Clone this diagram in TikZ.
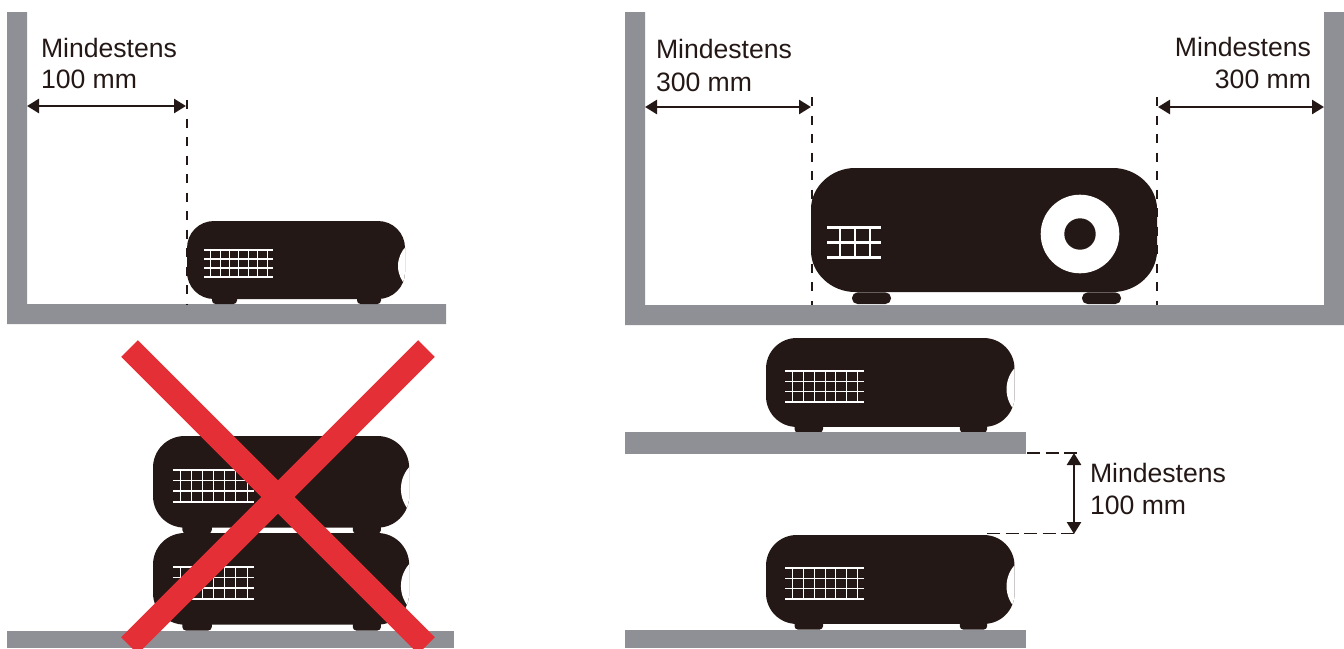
\documentclass[tikz,border=0pt]{standalone}
\usepackage{fontspec}
\setmainfont{Liberation Sans}
\usetikzlibrary{arrows.meta}
\definecolor{ink}{HTML}{231815}
\definecolor{shelf}{HTML}{8E9096}
\definecolor{cross}{HTML}{E52F36}
\tikzset{
  shelfbox/.style={fill=shelf,draw=none},
  label/.style={inner sep=0pt,outer sep=0pt,text=ink,font=\fontsize{26.6}{30}\selectfont},
  guide/.style={ink,line width=1.3pt,dash pattern=on 9.2pt off 9.3pt},
  hguide/.style={ink,line width=1.3pt,dash pattern=on 13pt off 5.5pt},
  measure/.style={ink,line width=2.6pt,{Triangle[length=12pt,width=14pt]}-{Triangle[length=12pt,width=14pt]}},
  crossbar/.style={cross,line width=23.6pt},
}
\newcommand{\bodyshape}{(27,0) -- (191,0) .. controls (206,0) and (218,12) .. (218,27) -- (218,51) .. controls (218,66) and (206,78) .. (191,78) -- (27,78) .. controls (12,78) and (0,66) .. (0,51) -- (0,27) .. controls (0,12) and (12,0) .. (27,0) -- cycle}
\newcommand{\sideproj}[3]{%
  \begin{scope}[shift={(#1,#2)},scale=#3]
    \fill[ink,rounded corners=3.5pt] (25,70) rectangle (50,83);
    \fill[ink,rounded corners=3.5pt] (170,70) rectangle (194,83);
    \fill[ink] \bodyshape;
    \begin{scope}
      \clip \bodyshape;
      \fill[white] (239,45) circle (28);
    \end{scope}
    \foreach \yy in {29,38,47,56} \draw[white,line width=1.5pt] (17,\yy) -- (86,\yy);
    \foreach \xx in {23.5,33,42.4,51.8,61.2,70.5,80} \draw[white,line width=1pt] (\xx,29) -- (\xx,56);
  \end{scope}}
\begin{document}
\begin{tikzpicture}[x=1pt,y=-1pt]
\useasboundingbox (0,0) rectangle (1344,648);
% left upper
\fill[shelfbox] (7,12) -- (27,12) -- (27,304) -- (446,304) -- (446,324) -- (7,324) -- cycle;
\sideproj{187}{221}{1}
\coordinate (la) at (27,106);
\coordinate (lb) at (186,106);
\coordinate (lt) at (187,100);
\coordinate (lf) at (187,304);
\draw[guide] (lt) -- (lf);
\draw[measure] (la) -- (lb);
\node[label,anchor=base west] (t1) at (41,57) {Mindestens};
\node[label,anchor=base west] (t2) at (41,88) {100 mm};
% left lower
\sideproj{153}{436}{1.175}
\sideproj{153}{533}{1.175}
\fill[shelfbox] (7,631) rectangle (454,648);
\begin{scope}
\clip (0,0) rectangle (1344,648);
\draw[crossbar] (129.5,348.5) -- (426.5,645.5);
\draw[crossbar] (426.5,348.5) -- (129.5,645.5);
\end{scope}
% right upper
\fill[shelfbox] (625,12) -- (645,12) -- (645,305) -- (1324,305) -- (1324,12) -- (1344,12) -- (1344,325) -- (625,325) -- cycle;
\fill[ink,rounded corners=5.5pt] (852,292.4) rectangle (891,304);
\fill[ink,rounded corners=5.5pt] (1082,292.4) rectangle (1121,304);
\fill[ink] (855,168) -- (1113,168) .. controls (1137,168) and (1157,187) .. (1157,209) -- (1157,251) .. controls (1157,273) and (1137,292) .. (1113,292) -- (855,292) .. controls (831,292) and (811,273) .. (811,251) -- (811,209) .. controls (811,187) and (831,168) .. (855,168) -- cycle;
\fill[white] (1080,234) circle (39.3);
\fill[ink] (1080,234) circle (15.7);
\foreach \yy in {227,242,257} \draw[white,line width=3pt] (827,\yy) -- (881,\yy);
\foreach \xx in {840,855,870} \draw[white,line width=1.5pt] (\xx,227) -- (\xx,257);
\coordinate (ra1) at (645,107);
\coordinate (rb1) at (811,107);
\coordinate (rt1) at (812,97);
\coordinate (rf1) at (812,305);
\coordinate (ra2) at (1324,107);
\coordinate (rb2) at (1158,107);
\coordinate (rt2) at (1157,97);
\coordinate (rf2) at (1157,305);
\draw[guide] (rt1) -- (rf1);
\draw[guide] (rt2) -- (rf2);
\draw[measure] (ra1) -- (rb1);
\draw[measure] (rb2) -- (ra2);
\node[label,anchor=base west] (t3) at (656,58) {Mindestens};
\node[label,anchor=base west] (t4) at (656,91) {300 mm};
\node[label,anchor=base east] (t5) at (1311,56) {Mindestens};
\node[label,anchor=base east] (t6) at (1311,88) {300 mm};
% right lower
\sideproj{766}{338}{1.14}
\fill[shelfbox] (625,432) rectangle (1026,454);
\sideproj{766}{535}{1.14}
\fill[shelfbox] (625,630) rectangle (1026,648);
\coordinate (d1) at (1027,453);
\coordinate (d2) at (1077,453);
\coordinate (d3) at (987,533.5);
\coordinate (d4) at (1077,533.5);
\coordinate (m1) at (1074,453);
\coordinate (m2) at (1074,534);
\draw[hguide] (d1) -- (d2);
\draw[hguide] (d3) -- (d4);
\draw[measure] (m1) -- (m2);
\node[label,anchor=base west] (t7) at (1090,482) {Mindestens};
\node[label,anchor=base west] (t8) at (1090,514) {100 mm};
\end{tikzpicture}
\end{document}
